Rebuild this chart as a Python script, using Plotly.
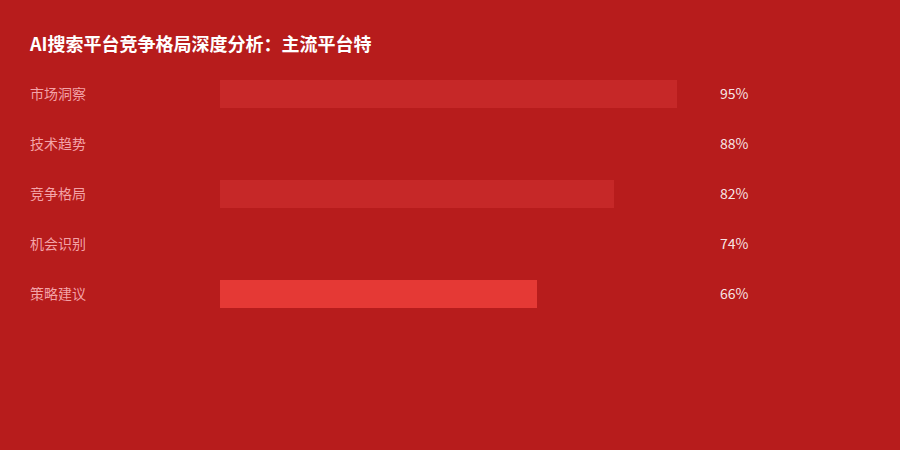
import plotly.graph_objects as go

categories = ["市场洞察", "技术趋势", "竞争格局", "机会识别", "策略建议"]
values = [95, 88, 82, 74, 66]
bar_colors = ["#C62828", "#B71C1C", "#C62828", "#B71C1C", "#E53935"]

BG = "#B71C1C"
FONT = "Noto Sans CJK SC, Microsoft YaHei, sans-serif"

fig = go.Figure()
fig.add_trace(
    go.Bar(
        x=values, y=categories, orientation="h",
        marker=dict(color=bar_colors, line_width=0),
        width=0.56, hoverinfo="skip", showlegend=False,
    )
)

# category labels on the left and value labels on the right
for cat, val in zip(categories, values):
    fig.add_annotation(
        xref="paper", yref="y", x=-0.3992, y=cat, text=cat,
        xanchor="left", yanchor="middle", yshift=1, showarrow=False,
        font=dict(family=FONT, size=14, color="rgba(255,190,195,0.85)"),
    )
    fig.add_annotation(
        xref="paper", yref="y", x=1.0353, y=cat, text=f"{val}%",
        xanchor="left", yanchor="middle", yshift=1, showarrow=False,
        font=dict(family=FONT, size=14, color="rgba(255,255,255,0.9)"),
    )

fig.update_layout(
    width=900, height=450,
    paper_bgcolor=BG, plot_bgcolor=BG,
    margin=dict(l=220, r=199, t=69, b=131),
    title=dict(
        text="<b>AI搜索平台竞争格局深度分析：主流平台特</b>",
        xref="container", yref="container", x=30 / 900, y=1 - 45 / 450,
        xanchor="left", yanchor="middle",
        font=dict(family=FONT, size=18, color="white"),
    ),
    xaxis=dict(range=[0, 100], visible=False, fixedrange=True),
    yaxis=dict(
        categoryorder="array", categoryarray=categories, autorange=False,
        range=[4.5, -0.5], visible=False, fixedrange=True,
    ),
    bargap=0,
)

fig.write_html(
    "out.html",
    config={"displayModeBar": False},
    post_script="document.body.style.margin='0';document.body.style.background='#B71C1C';",
)
